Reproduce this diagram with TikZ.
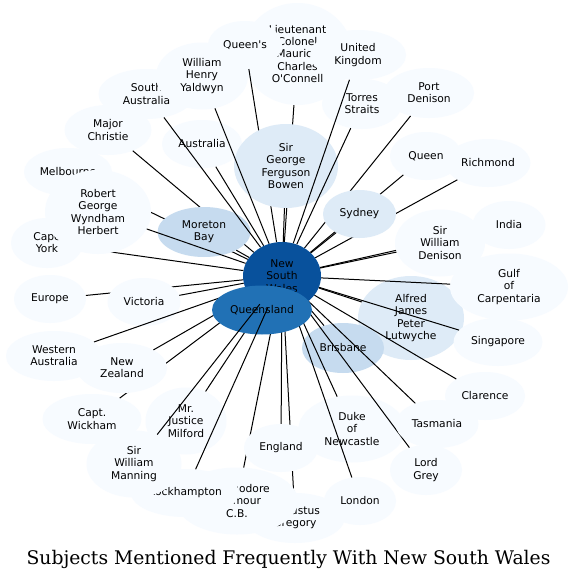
\documentclass[tikz,border=0pt]{standalone}
\usepackage{fontspec}
\usetikzlibrary{shapes.geometric}
\newfontfamily\lblfont{DejaVu Sans}
\newfontfamily\ttlfont{DejaVu Serif}
\definecolor{cone}{HTML}{F7FBFF}
\definecolor{ctwo}{HTML}{DEEBF7}
\definecolor{cthree}{HTML}{C6DBEF}
\definecolor{cseven}{HTML}{2171B5}
\definecolor{ceight}{HTML}{08519C}
\tikzset{
  nd/.style={ellipse, inner sep=0pt, align=center, text=black,
    font=\lblfont\fontsize{10.7}{12.2}\selectfont},
  lt/.style={nd, fill=cone},
  mid/.style={nd, fill=ctwo},
  med/.style={nd, fill=cthree},
  sz/.style 2 args={minimum width=#1pt, minimum height=#2pt},
  edge/.style={draw=black, line width=1pt}
}
\begin{document}
\begin{tikzpicture}[x=1pt,y=-1pt]
\fill[white] (0,0) rectangle (577,579);
\useasboundingbox (0,0) rectangle (577,579);
% hub
\node[nd, fill=ceight, sz={78}{68}] (nsw) at (282,276) {New\\South\\Wales};
% leaves, each followed by its connector
\node[lt, sz={99}{50}] (gregory) at (295,518) {Augustus\\Gregory};
\draw[edge] (nsw) -- (gregory);
\node[lt, sz={122}{67}] (commodore) at (237,501) {Commodore\\Seymour\\C.B.};
\draw[edge] (nsw) -- (commodore);
\node[lt, sz={74}{48}] (england) at (281,448) {England};
\draw[edge] (nsw) -- (england);
\node[lt, sz={99}{50}] (wickham) at (92,419) {Capt.\\Wickham};
\draw[edge] (nsw) -- (wickham);
\node[lt, sz={90}{50}] (nz) at (122,368) {New\\Zealand};
\draw[edge] (nsw) -- (nz);
\node[lt, sz={81}{67}] (milford) at (186,421) {Mr.\\Justice\\Milford};
\draw[edge] (nsw) -- (milford);
\node[lt, sz={72}{48}] (europe) at (50,299) {Europe};
\draw[edge] (nsw) -- (europe);
\node[lt, sz={73}{48}] (victoria) at (144,302) {Victoria};
\draw[edge] (nsw) -- (victoria);
\node[lt, sz={72}{50}] (capeyork) at (47,243) {Cape\\York};
\draw[edge] (nsw) -- (capeyork);
\node[lt, sz={88}{48}] (melbourne) at (68,172) {Melbourne};
\draw[edge] (nsw) -- (melbourne);
\node[lt, sz={87}{50}] (christie) at (108,130) {Major\\Christie};
\draw[edge] (nsw) -- (christie);
\node[med, sz={93}{50}] (moreton) at (204,232) {Moreton\\Bay};
\draw[edge] (nsw) -- (moreton);
\node[lt, sz={106}{84}] (herbert) at (98,212) {Robert\\George\\Wyndham\\Herbert};
\draw[edge] (nsw) -- (herbert);
\node[lt, sz={96}{50}] (wa) at (54,356) {Western\\Australia};
\draw[edge] (nsw) -- (wa);
\node[lt, sz={80}{48}] (australia) at (202,144) {Australia};
\draw[edge] (nsw) -- (australia);
\node[lt, sz={96}{50}] (sa) at (146.5,94) {South\\Australia};
\draw[edge] (nsw) -- (sa);
\node[lt, sz={110}{102}] (oconnell) at (297.5,54) {Lieutenant\\Colonel\\Maurice\\Charles\\O\textquotesingle Connell};
\draw[edge] (nsw) -- (oconnell);
\node[lt, sz={74}{48}] (queens) at (245,45) {Queen\textquotesingle s};
\draw[edge] (nsw) -- (queens);
\node[mid, sz={104}{84}] (bowen) at (286,166) {Sir\\George\\Ferguson\\Bowen};
\draw[edge] (nsw) -- (bowen);
\node[lt, sz={80}{50}] (torres) at (362,104) {Torres\\Straits};
\draw[edge] (nsw) -- (torres);
\node[lt, sz={92}{67}] (yaldwyn) at (202,76) {William\\Henry\\Yaldwyn};
\draw[edge] (nsw) -- (yaldwyn);
\node[lt, sz={96}{50}] (uk) at (358,55) {United\\Kingdom};
\draw[edge] (nsw) -- (uk);
\node[lt, sz={90}{50}] (portdenison) at (429,93) {Port\\Denison};
\draw[edge] (nsw) -- (portdenison);
\node[lt, sz={72}{48}] (queen) at (426,156) {Queen};
\draw[edge] (nsw) -- (queen);
\node[lt, sz={85}{48}] (richmond) at (488,163) {Richmond};
\draw[edge] (nsw) -- (richmond);
\node[mid, sz={73}{48}] (sydney) at (359.5,214) {Sydney};
\draw[edge] (nsw) -- (sydney);
\node[lt, sz={73}{48}] (india) at (509,225) {India};
\draw[edge] (nsw) -- (india);
\node[lt, sz={90}{67}] (denison) at (440,243) {Sir\\William\\Denison};
\draw[edge] (nsw) -- (denison);
\node[mid, sz={106}{84}] (lutwyche) at (411,318) {Alfred\\James\\Peter\\Lutwyche};
\draw[edge] (nsw) -- (lutwyche);
\node[lt, sz={118}{67}] (gulf) at (509,287) {Gulf\\of\\Carpentaria};
\draw[edge] (nsw) -- (gulf);
\node[lt, sz={89}{48}] (singapore) at (498,342) {Singapore};
\draw[edge] (nsw) -- (singapore);
\node[med, sz={82}{50}] (brisbane) at (343,348) {Brisbane};
\draw[edge] (nsw) -- (brisbane);
\node[lt, sz={80}{48}] (clarence) at (485,396) {Clarence};
\draw[edge] (nsw) -- (clarence);
\node[lt, sz={107}{67}] (duke) at (352,429) {Duke\\of\\Newcastle};
\draw[edge] (nsw) -- (duke);
\node[lt, sz={72}{48}] (london) at (360,501) {London};
\draw[edge] (nsw) -- (london);
\node[lt, sz={72}{50}] (lordgrey) at (426,470) {Lord\\Grey};
\draw[edge] (nsw) -- (lordgrey);
\node[lt, sz={83}{48}] (tasmania) at (437,424) {Tasmania};
\draw[edge] (nsw) -- (tasmania);
\node[nd, fill=cseven, sz={100}{49}] (queensland) at (262,310) {Queensland};
\node[lt, sz={108}{48}] (rockhampton) at (185,493) {Rockhampton};
\draw[edge] (nsw) -- (rockhampton);
\node[lt, sz={95}{67}] (manning) at (134,464) {Sir\\William\\Manning};
\draw[edge] (nsw) -- (manning);
% title
\node[font=\ttlfont\fontsize{18.76}{22}\selectfont, anchor=base, inner sep=0pt] (title) at (288.5,564) {Subjects Mentioned Frequently With New South Wales};
\end{tikzpicture}
\end{document}
